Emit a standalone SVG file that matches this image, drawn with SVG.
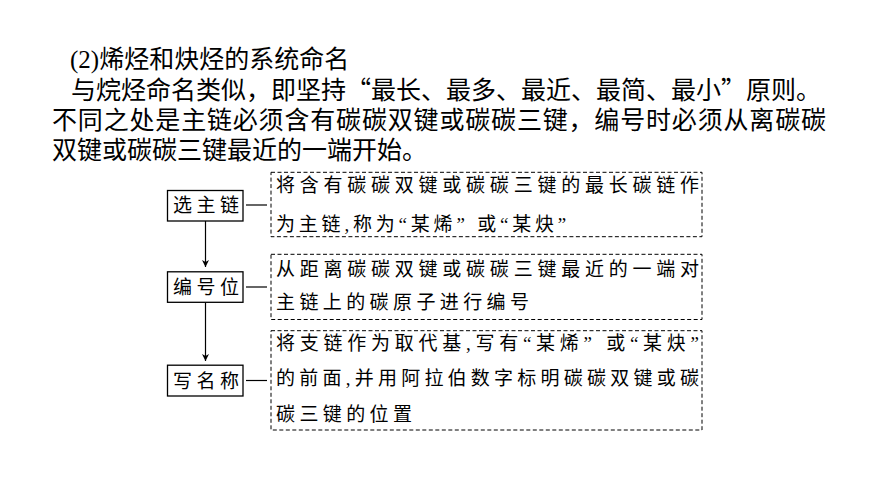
<svg xmlns="http://www.w3.org/2000/svg" width="870" height="489" viewBox="0 0 870 489">
<defs>
<style>
.main{font-family:"Noto Sans CJK SC","Liberation Serif",sans-serif;font-size:25px;fill:#000}
.lat{font-family:"Liberation Serif",serif}
.t{font-family:"Liberation Serif","Noto Sans CJK SC",serif;font-size:19px;fill:#000}
.box{fill:#fff;stroke:#000;stroke-width:1.3}
.dbox{fill:none;stroke:#000;stroke-width:1;stroke-dasharray:4 2.5}
.ln{stroke:#000;stroke-width:1.2;fill:none}
</style>
<marker id="ah" viewBox="0 0 10 10" refX="10" refY="5" markerWidth="7" markerHeight="9" markerUnits="userSpaceOnUse" orient="auto">
<path d="M0,0 L10,5 L0,10 L3,5 Z" fill="#000"/>
</marker>
</defs>
<rect width="870" height="489" fill="#fff"/>
<g id="intro">
<text class="main" x="70" y="68"><tspan class="lat">(2)</tspan>烯烃和炔烃的系统命名</text>
<text class="main" x="71" y="98.5" textLength="750" lengthAdjust="spacing">与烷烃命名类似，即坚持“最长、最多、最近、最简、最小”原则。</text>
<text class="main" x="52" y="129" textLength="774" lengthAdjust="spacing">不同之处是主链必须含有碳碳双键或碳碳三键，编号时必须从离碳碳</text>
<text class="main" x="52" y="158.5">双键或碳碳三键最近的一端开始。</text>
</g>
<g id="connectors">
<line class="ln" x1="205.5" y1="221" x2="205.5" y2="267" marker-end="url(#ah)"/>
<line class="ln" x1="205.5" y1="302.5" x2="205.5" y2="361" marker-end="url(#ah)"/>
<line class="ln" x1="246" y1="205" x2="267" y2="205"/>
<line class="ln" x1="246" y1="287" x2="267" y2="287"/>
<line class="ln" x1="246" y1="380.5" x2="267" y2="380.5"/>
</g>
<g id="node-select">
<rect class="box" x="167.5" y="190.5" width="75.5" height="30.5"/>
<text class="t" x="173" y="212" letter-spacing="4.5">选主链</text>
</g>
<g id="node-number">
<rect class="box" x="167.5" y="271.8" width="75.5" height="30.5"/>
<text class="t" x="173" y="294" letter-spacing="4.5">编号位</text>
</g>
<g id="node-write">
<rect class="box" x="167.5" y="365.2" width="75.5" height="30.8"/>
<text class="t" x="173" y="387.5" letter-spacing="4.5">写名称</text>
</g>
<g id="desc-select">
<rect class="dbox" x="271" y="172.3" width="431" height="64.4"/>
<text class="t" x="276" y="192" textLength="423" lengthAdjust="spacing">将含有碳碳双键或碳碳三键的最长碳链作</text>
<text class="t" x="276" y="230.5" letter-spacing="3.8">为主链,称为“某烯” 或“某炔”</text>
</g>
<g id="desc-number">
<rect class="dbox" x="271" y="254.3" width="431" height="65.2"/>
<text class="t" x="276" y="276" textLength="423" lengthAdjust="spacing">从距离碳碳双键或碳碳三键最近的一端对</text>
<text class="t" x="276" y="309" letter-spacing="4.4">主链上的碳原子进行编号</text>
</g>
<g id="desc-write">
<rect class="dbox" x="271" y="330.7" width="431" height="99.3"/>
<text class="t" x="276" y="350" textLength="423" lengthAdjust="spacing">将支链作为取代基,写有“某烯” 或“某炔”</text>
<text class="t" x="276" y="384.5" textLength="423" lengthAdjust="spacing">的前面,并用阿拉伯数字标明碳碳双键或碳</text>
<text class="t" x="276" y="421" letter-spacing="4.4">碳三键的位置</text>
</g>
</svg>
